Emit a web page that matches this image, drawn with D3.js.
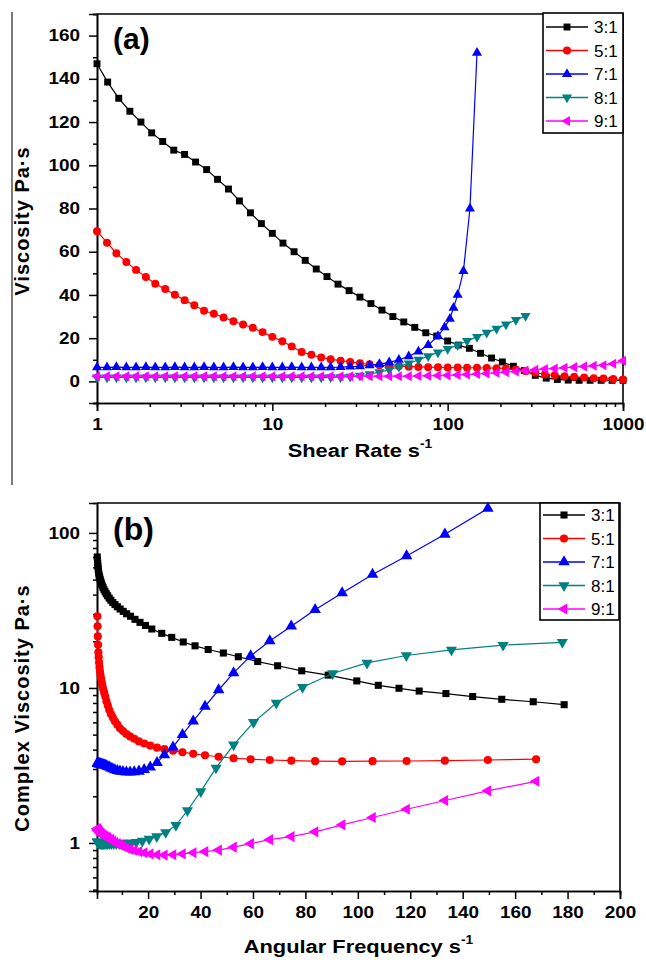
<!DOCTYPE html>
<html><head><meta charset="utf-8">
<script src="https://cdn.jsdelivr.net/npm/d3@7"></script>
<style>body{margin:0;background:#fff} svg{display:block}</style>
</head><body><svg id="c" width="646" height="960"></svg>
<script>
// ---------- shared ----------
const seriesNames = ["3:1", "5:1", "7:1", "8:1", "9:1"];
const seriesColors = ["#000000", "#ff0000", "#0000ff", "#008080", "#ff00ff"];

// ---------- panel (a): viscosity vs shear rate ----------
const shearA16 = [1,1.15,1.33,1.54,1.78,2.05,2.37,2.74,3.16,3.65,4.22,4.87,5.62,6.49,7.5,8.66,10,11.5,13.3,15.4,17.8,20.5,23.7,27.4,31.6,36.5,42.2,48.7,56.2,64.9,75,86.6,100,115,133,154,178,205,237,274,316,365,422,487,562,649,750,866,1000];
const shearA18 = [1,1.14,1.29,1.47,1.67,1.9,2.15,2.45,2.78,3.16,3.59,4.08,4.64,5.27,6,6.81,7.74,8.8,10,11.4,12.9,14.7,16.7,19,21.5,24.5,27.8,31.6,35.9,40.8,46.4,52.7,60,68.1,77.4,88,100,114,129,147,167,190,215,245,278,316,359,408,464,527,600,681,774,880,1000];
const shearA7 = [1,1.14,1.29,1.47,1.67,1.9,2.15,2.45,2.78,3.16,3.59,4.08,4.64,5.27,6,6.81,7.74,8.8,10,11.4,12.9,14.7,16.7,19,21.5,24.5,27.8,31.6,35.9,40.8,46.4,52.7,60,68.1,77.4,88,96,103,108,114,123,134,147];
const shearA8 = [1,1.14,1.29,1.47,1.67,1.9,2.15,2.45,2.78,3.16,3.59,4.08,4.64,5.27,6,6.81,7.74,8.8,10,11.4,12.9,14.7,16.7,19,21.5,24.5,27.8,31.6,35.9,40.8,46.4,52.7,60,68.1,77.4,88,100,114,129,147,167,190,215,245,278];

const viscA31 = [147,138.5,131,125,120,115,111,107,105,101.5,98,93.5,89,83.5,78,73,68.5,64,60,56,52,48.5,45,42,39,36,33,30,27.5,25,22.5,21,18.7,16.8,15.3,13,10.8,9,7,5,2.8,1.5,0.9,0.6,0.5,0.5,0.5,0.5,0.5];
const viscA51 = [69.5,64.2,59.3,55.2,51.6,48.3,45.2,42.7,40.1,37.6,35.2,32.7,31.3,29.6,27.8,26.3,24.8,22.8,20.6,18.6,16.2,13.6,12.3,11.1,10.2,9.6,9,8.4,7.9,7.5,7.2,7,6.8,6.7,6.6,6.5,6.4,6.4,6.3,6.3,6.2,6.1,6,5.5,4.8,4,3.3,2.8,2.4,2.1,1.8,1.5,1.3,1.1,0.9];
const viscA71 = [6.5,6.5,6.6,6.5,6.5,6.6,6.5,6.5,6.6,6.5,6.5,6.6,6.5,6.5,6.6,6.5,6.5,6.6,6.5,6.5,6.6,6.5,6.5,6.5,6.5,6.6,6.8,7.0,7.4,8.0,8.8,10,11.6,13.8,16.8,21,25,29,34,40,51,80,152];
const viscA81 = [1.8,1.8,1.8,1.8,1.8,1.8,1.8,1.8,1.8,1.8,1.8,1.8,1.8,1.8,1.8,1.8,1.8,1.8,1.8,1.8,1.8,1.8,1.8,1.85,1.9,2.0,2.2,2.6,3.3,4.3,5.4,6.8,8.3,10,11.7,13.4,15,16.8,18.7,20.6,22.5,24.4,26.4,28.4,30.3];
const viscA91 = [2.4,2.4,2.4,2.4,2.4,2.4,2.4,2.4,2.4,2.4,2.4,2.4,2.4,2.4,2.4,2.4,2.4,2.4,2.4,2.4,2.4,2.4,2.4,2.4,2.4,2.4,2.4,2.4,2.4,2.4,2.4,2.4,2.4,2.5,2.6,2.7,2.8,3.0,3.2,3.4,3.7,4.0,4.3,4.6,5.0,5.4,5.7,6.0,6.3,6.6,6.9,7.2,7.5,8.2,9.5];

const xTicksA = [1, 10, 100, 1000];
const yTicksA = [0, 20, 40, 60, 80, 100, 120, 140, 160];

// ---------- panel (b): complex viscosity vs angular frequency ----------
const freqB3 = [0.6,0.68,0.76,0.86,0.97,1.09,1.23,1.38,1.56,1.76,1.98,2.23,2.51,2.83,3.19,3.6,4.05,4.56,5.14,5.79,6.52,7.35,8.28,9.33,10.5,11.8,13.3,15,16.9,19,21.4,25.2,29,33.4,37.9,42.9,48.7,54.4,61.8,69.4,78.6,88.7,99.6,107.8,115.7,123.4,133.6,143.8,154.9,166.9,178.7];
const freqB = [0.64,0.72,0.81,0.91,1.02,1.15,1.29,1.45,1.63,1.83,2.05,2.3,2.58,2.9,3.26,3.66,4.11,4.62,5.18,5.82,6.54,7.34,8.25,9.26,10.4,11.7,13.1,14.7,16.5,18.5,20.8,23.4,26.2,29.5,33.1,37.2,41.7,46.9,52.6,59.1,66.4,74.6,83.7,94,105.6,118.6,133.2,149.6,168];
const freqB8 = [0.6,0.69,0.79,0.9,1.03,1.18,1.35,1.55,1.77,2.03,2.33,2.66,3.05,3.49,4.0,4.58,5.25,6.01,6.88,7.88,9.02,10.3,11.8,13.6,15.5,17.8,20.4,23.3,26.7,30.6,35,40.1,45.9,52.6,60.2,68.9,78.9,90.4,103.5,118.5,135.7,155.4,178];

const cvB31 = [70,67,64,61,58.3,56,54.2,52.6,51.2,49.8,48.4,47,45.6,44.3,43,41.7,40.5,39.3,38,36.8,35.6,34.5,33.4,32.3,31.2,30.1,29,27.7,26.5,25.3,24,22.5,21.2,19.8,18.7,17.7,16.8,15.9,14.8,13.9,12.9,12.1,11.1,10.4,9.95,9.55,9.2,8.8,8.45,8.15,7.8];
const cvB51 = [29,25,21.5,19,17,15.8,14.6,13.6,12.8,12.1,11.5,10.9,10.3,9.8,9.3,8.8,8.2,7.7,7.2,6.8,6.45,6.1,5.8,5.5,5.27,5.05,4.87,4.7,4.52,4.38,4.25,4.12,4.03,3.94,3.85,3.76,3.68,3.6,3.52,3.47,3.43,3.4,3.37,3.36,3.37,3.38,3.4,3.43,3.47];
const cvB71 = [3.27,3.27,3.26,3.26,3.25,3.25,3.24,3.24,3.23,3.22,3.22,3.21,3.2,3.19,3.18,3.16,3.14,3.11,3.08,3.04,3.0,2.96,2.93,2.9,2.88,2.86,2.86,2.87,2.9,2.97,3.08,3.3,3.7,4.15,5.0,6.1,7.6,9.7,12.5,16.1,20.1,25,32,41,54,71,98,144];
const cvB81 = [1.02,1.02,1.01,1.01,1.0,1.0,1.0,1.0,1.0,0.99,0.99,0.99,0.99,0.99,0.99,0.99,0.99,0.99,0.99,0.99,0.99,1.0,1.0,1.0,1.01,1.03,1.06,1.1,1.17,1.3,1.62,2.15,3.05,4.3,6.0,8.0,10.1,12.4,14.5,16.2,17.6,18.9,19.7];
const cvB91 = [1.24,1.23,1.22,1.21,1.2,1.2,1.19,1.18,1.17,1.16,1.15,1.14,1.13,1.12,1.11,1.1,1.09,1.08,1.06,1.05,1.03,1.01,0.99,0.97,0.95,0.93,0.91,0.895,0.88,0.865,0.85,0.84,0.835,0.84,0.85,0.865,0.88,0.9,0.94,0.99,1.05,1.1,1.18,1.31,1.46,1.65,1.88,2.17,2.5];

const xTicksB = [20, 40, 60, 80, 100, 120, 140, 160, 180, 200];
const yTicksB = [1, 10, 100];

// ---------- drawing ----------
const svg = d3.select("#c");
const FONT = "'Liberation Sans', Arial, Helvetica, sans-serif";
const shapes = [d3.symbolSquare, d3.symbolCircle, d3.symbolTriangle, d3.symbolTriangle, d3.symbolTriangle];
const rots = [0, 0, 0, 180, -90];

function stretch(sel, sx) {
  sel.each(function () {
    const t = d3.select(this);
    const x = +t.attr("x") || 0, y = +t.attr("y") || 0;
    t.attr("transform", `translate(${x},${y}) scale(${sx},1) translate(${-x},${-y})`);
  });
}

function styleAxis(g) {
  g.select(".domain").attr("stroke", "#000").attr("stroke-width", 1.6);
  g.selectAll(".tick line").attr("stroke", "#000").attr("stroke-width", 1.5);
  g.selectAll("text").attr("font-family", FONT).attr("font-weight", "bold")
    .attr("font-size", 16).attr("fill", "#000");
}

svg.append("line").attr("x1", 12).attr("x2", 12).attr("y1", 12).attr("y2", 485)
  .attr("stroke", "#333").attr("stroke-width", 1.3);

function panel(cfg) {
  const { x, y, xTicks, xMinor, yTicks, yMinor, xFmt, yFmt, series, sizes, legend, tag, xTitle, yTitle } = cfg;
  const [x0, x1] = x.range(), [y0, y1] = y.range();
  const g = svg.append("g");
  // minor ticks
  g.append("g").attr("transform", `translate(0,${y0})`)
    .call(d3.axisBottom(x).tickValues(xMinor).tickSize(4).tickFormat(""))
    .call(styleAxis);
  g.append("g").attr("transform", `translate(${x0},0)`)
    .call(d3.axisLeft(y).tickValues(yMinor).tickSize(4).tickFormat(""))
    .call(styleAxis);
  // major ticks
  const ax = g.append("g").attr("transform", `translate(0,${y0})`)
    .call(d3.axisBottom(x).tickValues(xTicks).tickSize(8).tickPadding(8).tickFormat(xFmt))
    .call(styleAxis);
  stretch(ax.selectAll("text"), 1.18);
  const ay = g.append("g").attr("transform", `translate(${x0},0)`)
    .call(d3.axisLeft(y).tickValues(yTicks).tickSize(8).tickPadding(9).tickFormat(yFmt))
    .call(styleAxis);
  stretch(ay.selectAll("text"), 1.18);
  // frame top/right
  g.append("path").attr("d", `M${x0},${y1}H${x1}V${y0}`).attr("fill", "none")
    .attr("stroke", "#000").attr("stroke-width", 1.6);

  // series
  series.forEach((s, i) => {
    const pts = s.xs.map((v, j) => [v, s.ys[j]]).filter(p => p[1] !== undefined);
    const sg = g.append("g");
    sg.append("path").datum(pts)
      .attr("d", d3.line().x(d => x(d[0])).y(d => y(d[1])))
      .attr("fill", "none").attr("stroke", seriesColors[i]).attr("stroke-width", 1.2);
    sg.selectAll("path.m").data(pts).join("path").attr("class", "m")
      .attr("d", d3.symbol().type(shapes[i]).size(sizes[i]))
      .attr("transform", d => `translate(${x(d[0])},${y(d[1])}) rotate(${rots[i]})`)
      .attr("fill", seriesColors[i]);
  });

  // legend
  const lg = g.append("g");
  lg.append("rect").attr("x", legend.x).attr("y", legend.y).attr("width", legend.w).attr("height", legend.h)
    .attr("fill", "#fff").attr("stroke", "#000").attr("stroke-width", 1.6);
  seriesNames.forEach((n, i) => {
    const yy = legend.y + legend.first + i * legend.step;
    lg.append("line").attr("x1", legend.x + 3).attr("x2", legend.x + 45).attr("y1", yy).attr("y2", yy)
      .attr("stroke", seriesColors[i]).attr("stroke-width", 1.3);
    lg.append("path").attr("d", d3.symbol().type(shapes[i]).size(sizes[i]))
      .attr("transform", `translate(${legend.x + 24},${yy}) rotate(${rots[i]})`)
      .attr("fill", seriesColors[i]);
    lg.append("text").attr("x", legend.x + 51).attr("y", yy + 6).text(n)
      .attr("font-family", FONT).attr("font-size", 17).attr("fill", "#000");
  });

  // panel tag
  g.append("text").attr("x", tag.x).attr("y", tag.y).text(tag.t)
    .attr("font-family", FONT).attr("font-weight", "bold").attr("font-size", tag.size);

  // x title
  const xt = g.append("text").attr("x", (x0 + x1) / 2).attr("y", xTitle.y)
    .attr("text-anchor", "middle").attr("font-family", FONT).attr("font-weight", "bold")
    .attr("font-size", 19);
  xt.append("tspan").text(xTitle.t);
  xt.append("tspan").text("-1").attr("font-size", 12).attr("dy", -9);
  stretch(xt, 1.15);

  // y title
  svg.append("text").attr("transform", `translate(29,${yTitle.cy}) rotate(-90)`)
    .attr("text-anchor", "middle").attr("font-family", FONT).attr("font-weight", "bold")
    .attr("font-size", 20).attr("letter-spacing", 1).text(yTitle.t);
}

// panel (a)
const xA = d3.scaleLog().domain([1, 1000]).range([97, 623]);
const yA = d3.scaleLinear().domain([-10, 170]).range([403, 14]);
const minorA = [];
[1, 10, 100].forEach(d => { for (let k = 2; k <= 9; k++) minorA.push(d * k); });
panel({
  x: xA, y: yA, xTicks: xTicksA, xMinor: minorA,
  yTicks: yTicksA, yMinor: [-10, 10, 30, 50, 70, 90, 110, 130, 150, 170],
  xFmt: d3.format("d"), yFmt: d3.format("d"),
  series: [
    { xs: shearA16, ys: viscA31 },
    { xs: shearA18, ys: viscA51 },
    { xs: shearA7, ys: viscA71 },
    { xs: shearA8, ys: viscA81 },
    { xs: shearA18, ys: viscA91 }
  ],
  sizes: [48, 50, 44, 44, 44],
  legend: { x: 543, y: 13, w: 80, h: 120, first: 14, step: 23.5 },
  tag: { x: 113, y: 49, t: "(a)", size: 30 },
  xTitle: { y: 457, t: "Shear Rate s" },
  yTitle: { cy: 221, t: "Viscosity Pa·s" }
});

// panel (b)
const xB = d3.scaleLinear().domain([0.5, 200]).range([97, 620]);
const yB = d3.scaleLog().domain([0.49, 156]).range([891, 503]);
const minorBy = [0.5, 0.6, 0.7, 0.8, 0.9];
[1, 10].forEach(d => { for (let k = 2; k <= 9; k++) minorBy.push(d * k); });
panel({
  x: xB, y: yB, xTicks: xTicksB, xMinor: [10, 30, 50, 70, 90, 110, 130, 150, 170, 190],
  yTicks: yTicksB, yMinor: minorBy,
  xFmt: d3.format("d"), yFmt: d3.format("d"),
  series: [
    { xs: freqB3, ys: cvB31 },
    { xs: freqB, ys: cvB51 },
    { xs: freqB, ys: cvB71 },
    { xs: freqB8, ys: cvB81 },
    { xs: freqB, ys: cvB91 }
  ],
  sizes: [50, 52, 58, 54, 54],
  legend: { x: 540, y: 503, w: 79, h: 117, first: 12, step: 23.5 },
  tag: { x: 113, y: 540, t: "(b)", size: 32 },
  xTitle: { y: 953, t: "Angular Frequency s" },
  yTitle: { cy: 708, t: "Complex Viscosity Pa·s" }
});
</script></body></html>
